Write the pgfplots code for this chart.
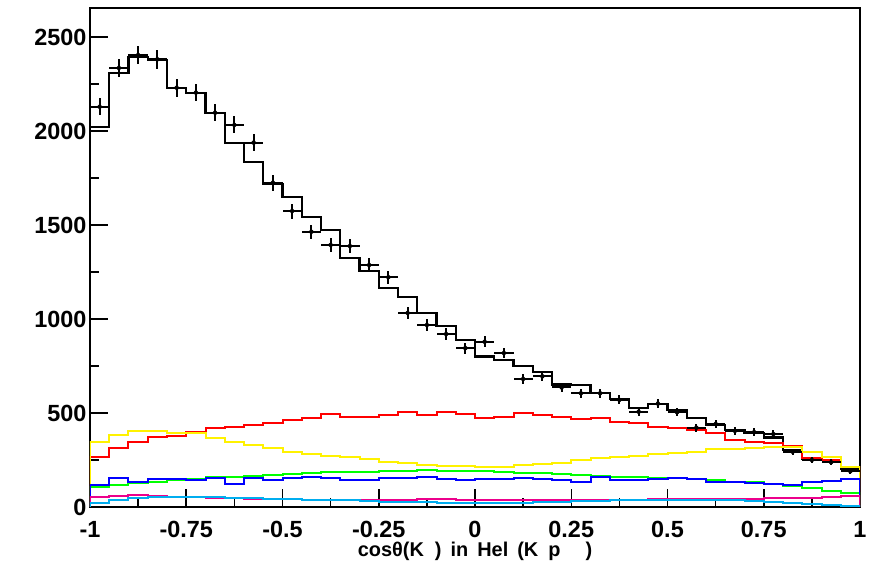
\documentclass[border=0pt]{standalone}
\usepackage{fontspec}
\setmainfont{Liberation Sans}
\usepackage{pgfplots}
\usepackage{pgfplotstable}
\pgfplotsset{compat=1.18}

% left bin edges; H = total histogram, R Y G B M C = components
\pgfplotstableread{
x H R Y G B M C
-1.00 0 0 0 0 0 0 0
-1.00 2023 268 348 105 117 51 19
-0.95 2307 312 383 117 153 58 39
-0.90 2395 348 406 126 135 64 46
-0.85 2378 374 406 135 147 58 51
-0.80 2227 378 392 144 147 55 51
-0.75 2204 401 392 147 144 55 55
-0.70 2094 418 365 158 156 46 53
-0.65 1934 424 348 161 122 46 46
-0.60 1837 436 330 165 156 44 46
-0.55 1718 445 312 170 144 42 44
-0.50 1650 463 294 176 154 40 40
-0.45 1541 472 282 183 158 37 37
-0.40 1473 495 271 188 154 37 37
-0.35 1323 477 264 188 145 36 35
-0.30 1257 480 254 188 144 35 30
-0.25 1165 489 241 193 154 35 28
-0.20 1119 504 236 193 154 38 26
-0.15 1030 489 223 197 161 40 24
-0.10 963 504 218 193 147 40 22
-0.05 888 493 218 193 144 38 20
0.00 800 472 211 190 147 37 19
0.05 782 480 211 188 147 37 20
0.10 750 498 223 183 153 37 22
0.15 720 489 229 179 150 37 25
0.20 652 480 236 176 144 38 28
0.25 648 466 250 170 135 38 30
0.30 605 472 259 165 161 38 33
0.35 573 454 264 161 144 39 35
0.40 525 445 271 158 144 39 37
0.45 548 427 280 153 147 40 38
0.50 516 418 288 153 153 41 39
0.55 472 410 294 147 147 41 39
0.60 436 392 310 144 135 42 38
0.65 410 356 310 135 135 42 35
0.70 395 347 315 135 126 44 30
0.75 370 339 321 122 122 46 27
0.80 305 325 320 112 117 48 22
0.85 257 262 294 99 135 50 16
0.90 248 252 265 87 140 53 10
0.95 205 214 212 73 147 56 5
1.00 205 214 212 73 147 56 5
1.00 0 0 0 0 0 0 0
}\mc

% data points: bin centre, content, error
\pgfplotstableread{
x y ey
-0.975 2129 46
-0.925 2335 48
-0.875 2404 49
-0.825 2381 49
-0.775 2230 47
-0.725 2204 47
-0.675 2097 46
-0.625 2032 45
-0.575 1938 44
-0.525 1725 42
-0.475 1574 40
-0.425 1464 38
-0.375 1394 37
-0.325 1388 37
-0.275 1287 36
-0.225 1222 35
-0.175 1032 32
-0.125 968 31
-0.075 920 30
-0.025 845 29
0.025 879 30
0.075 819 29
0.125 681 26
0.175 695 26
0.225 636 25
0.275 605 25
0.325 605 25
0.375 570 24
0.425 507 23
0.475 550 23
0.525 504 22
0.575 422 21
0.625 442 21
0.675 405 20
0.725 398 20
0.775 388 20
0.825 294 17
0.875 250 16
0.925 238 15
0.975 190 14
}\data

\begin{document}
\begin{tikzpicture}
\begin{axis}[
  name=ax,
  scale only axis,
  width=770bp, height=499bp,
  xmin=-1, xmax=1, ymin=0, ymax=2654,
  axis line style={line width=1.5bp, black},
  tick align=inside, tick pos=left,
  major tick length=18bp, minor tick length=9bp,
  every tick/.style={line width=1.5bp, black},
  xtick={-1,-0.75,-0.5,-0.25,0,0.25,0.5,0.75,1},
  xticklabels={-1,-0.75,-0.5,-0.25,0,0.25,0.5,0.75,1},
  minor xtick={-0.875,-0.625,-0.375,-0.125,0.125,0.375,0.625,0.875},
  ytick={0,500,1000,1500,2000,2500},
  yticklabels={0,500,1000,1500,2000,2500},
  minor ytick={250,750,1250,1750,2250},
  ticklabel style={font=\fontsize{23.5}{23.5}\selectfont\bfseries},
  xticklabel style={inner sep=0pt, anchor=north, yshift=-14bp},
  xlabel={cosθ(K\hspace{11bp})\hspace{9bp}in\hspace{9bp}Hel\hspace{9bp}(K\hspace{10bp}p\hspace{25bp})},
  xlabel style={font=\fontsize{20}{20}\selectfont\bfseries,
    at={(axis description cs:0.5,0)}, anchor=base, inner sep=0pt, yshift=-49.5bp},
  clip=true,
]
\addplot[const plot, black, line width=2.2bp] table[x=x, y=H]{\mc};
\addplot[const plot, red, line width=2bp] table[x=x, y=R]{\mc};
\addplot[const plot, yellow, line width=2bp] table[x=x, y=Y]{\mc};
\addplot[const plot, green, line width=2bp] table[x=x, y=G]{\mc};
\addplot[const plot, blue, line width=2bp] table[x=x, y=B]{\mc};
\addplot[const plot, magenta, line width=2bp] table[x=x, y=M]{\mc};
\addplot[const plot, cyan, line width=2bp] table[x=x, y=C]{\mc};
\addplot[only marks, mark=none,
  error bars/.cd, x dir=both, x fixed=0.025, y dir=both, y explicit,
  error mark=none, error bar style={draw=black, line width=2bp}]
  table[x=x, y=y, y error=ey]{\data};
\end{axis}
\pgfresetboundingbox
\path ([shift={(-90bp,-54bp)}]ax.south west) rectangle ([shift={(11bp,8bp)}]ax.north east);
\end{tikzpicture}
\end{document}
